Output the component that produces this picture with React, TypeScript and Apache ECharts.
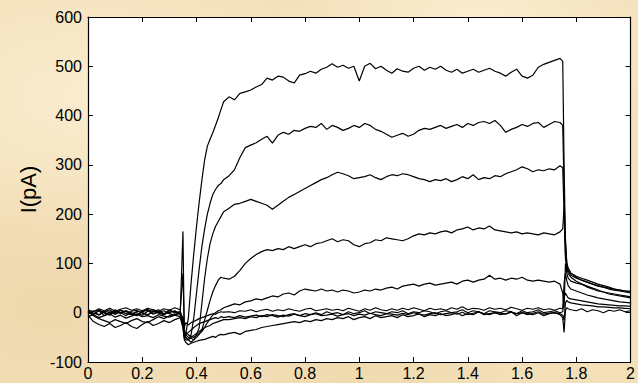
import React, { useEffect, useRef } from "react";
import * as echarts from "echarts";

// Time (s) sample points
const TIME = [
  0, 0.02, 0.04, 0.06, 0.08, 0.1, 0.12, 0.14, 0.16, 0.18, 0.2, 0.22, 0.24, 0.26, 0.28, 0.3, 0.32, 0.34,
  0.35, 0.355, 0.36,
  0.37, 0.38, 0.39, 0.4, 0.41, 0.42, 0.43, 0.44, 0.45, 0.46, 0.47, 0.48, 0.49, 0.5,
  0.52, 0.54, 0.56, 0.58, 0.6, 0.62, 0.64, 0.66, 0.68, 0.7,
  0.72, 0.74, 0.76, 0.78, 0.8, 0.82, 0.84, 0.86, 0.88, 0.9,
  0.92, 0.94, 0.96, 0.98, 1, 1.02, 1.04, 1.06, 1.08, 1.1,
  1.12, 1.14, 1.16, 1.18, 1.2, 1.22, 1.24, 1.26, 1.28, 1.3,
  1.32, 1.34, 1.36, 1.38, 1.4, 1.42, 1.44, 1.46, 1.48, 1.5,
  1.52, 1.54, 1.56, 1.58, 1.6, 1.62, 1.64, 1.66, 1.68, 1.7,
  1.72, 1.74,
  1.75, 1.755, 1.76, 1.765, 1.77,
  1.78, 1.8, 1.82, 1.84, 1.86, 1.88, 1.9, 1.92, 1.94, 1.96, 1.98, 2,
];

const TRACE_A = [
  3, -4, 5, 1, -3, 6, -2, 4, 0, -5, 3, 7, -1, 2, -4, 5, 1, -2,
  165, -50, -45,
  -10, 60, 120, 175, 225, 270, 310, 338, 352, 365, 380, 395, 412, 428,
  438, 432, 445, 448, 452, 458, 463, 476, 472, 480,
  478, 470, 466, 482, 485, 490, 486, 494, 498, 505,
  498, 502, 496, 500, 470, 500, 506, 495, 500, 492,
  486, 495, 490, 488, 496, 500, 492, 498, 494, 500,
  492, 488, 494, 486, 490, 494, 488, 492, 496, 490,
  486, 480, 488, 494, 480, 476, 482, 498, 504, 508,
  512, 516,
  510, 300, 140, 100, 90,
  80, 74, 70, 66, 62, 58, 55, 52, 48, 46, 44, 42,
];

const TRACE_B = [
  -2, 4, -5, 2, 6, -3, 1, -6, 3, 5, -1, -4, 2, 6, -2, 0, 4, -3,
  -30, -50, -55,
  -55, -45, -10, 40, 90, 135, 170, 200, 222, 240, 250, 258, 262, 270,
  278, 290, 315, 335, 340, 345, 352, 358, 344, 360,
  366, 362, 370, 368, 374, 378, 376, 384, 372, 380,
  376, 370, 374, 380, 376, 384, 380, 372, 368, 362,
  356, 360, 364, 358, 362, 370, 374, 372, 376, 380,
  374, 378, 382, 376, 384, 380, 386, 388, 384, 390,
  380, 366, 372, 376, 382, 378, 384, 386, 376, 382,
  388, 386,
  380, 250, 120, 95, 85,
  76, 70, 66, 62, 58, 55, 52, 48, 46, 44, 42, 40,
];

const TRACE_C = [
  1, -3, 4, -6, 2, 0, 5, -2, -4, 3, 1, -5, 4, 2, -3, 6, -1, 3,
  -20, -45, -50,
  -55, -60, -55, -45, -30, 20, 70, 110, 140, 160, 175, 185, 195, 205,
  212, 220, 222, 226, 230, 226, 222, 218, 210, 218,
  226, 234, 240, 246, 252, 258, 264, 270, 274, 280,
  285, 282, 278, 272, 274, 276, 280, 274, 270, 276,
  280, 278, 282, 280, 276, 272, 270, 266, 270, 268,
  272, 266, 270, 276, 272, 280, 270, 274, 272, 278,
  276, 282, 286, 290, 296, 292, 286, 290, 288, 292,
  290, 298,
  294, 200, 110, 90, 80,
  72, 64, 58, 54, 50, 46, 42, 40, 38, 36, 34, 32,
];

const TRACE_D = [
  -3, 2, 6, -1, -5, 3, 0, 4, -2, -6, 2, 5, -3, 1, 4, -2, -5, 2,
  -15, -40, -45,
  -50, -52, -55, -50, -44, -35, -15, 5, 25, 42, 55, 66, 72, 70,
  68, 74, 86, 100, 110, 118, 124, 128, 126, 130,
  128, 134, 130, 134, 138, 134, 140, 142, 146, 150,
  144, 148, 146, 138, 134, 140, 142, 148, 146, 152,
  150, 148, 146, 150, 156, 160, 158, 162, 160, 164,
  166, 162, 168, 170, 174, 168, 172, 170, 176, 168,
  166, 164, 162, 164, 160, 162, 160, 158, 162, 160,
  158, 164,
  170, 215, 150, 100, 90,
  80, 72, 66, 62, 58, 54, 52, 50, 48, 46, 44, 44,
];

const TRACE_E = [
  4, -1, -4, 3, 1, -3, 5, 2, -2, 0, -5, 3, 6, -1, -4, 2, 3, -2,
  -10, -35, -40,
  -45, -48, -50, -46, -42, -38, -30, -20, -12, -5, 0, 4, 6, 10,
  14, 18, 16, 22, 24, 28, 26, 30, 34, 32,
  38, 40, 36, 44, 48, 46, 44, 48, 44, 46,
  42, 46, 44, 40, 42, 46, 44, 48, 46, 50,
  52, 48, 54, 56, 58, 54, 58, 60, 56, 58,
  60, 62, 58, 64, 66, 62, 66, 68, 76, 68,
  70, 66, 70, 68, 72, 66, 64, 66, 64, 62,
  64, 58,
  40, 10, 100, 80, 70,
  64, 60, 58, 52, 48, 44, 42, 38, 36, 34, 32, 30,
];

const TRACE_F = [
  -5, -18, -24, -28, -22, -30, -26, -20, -28, -32, -24, -18, -26, -22, -16, -20, -14, -10,
  -30, -55, -60,
  -65, -62, -60, -58, -56, -55, -54, -52, -50, -48, -50, -46, -44, -45,
  -42, -40, -44, -38, -36, -34, -30, -28, -26, -24,
  -22, -20, -18, -20, -16, -18, -14, -16, -12, -14,
  -10, -12, -8, -14, -10, -8, -12, -6, -10, -8,
  -6, -10, -4, -8, -6, -2, -8, -4, -6, -2,
  -6, -4, 0, -6, -2, -4, 2, -4, -2, 0,
  -4, -2, 2, -6, 0, -2, -4, 0, -6, -2,
  0, -4,
  -10, -40, 5, 10, 8,
  6, 4, 8, 2, 6, 4, 0, 5, 3, 6, 2, 4,
];

const TRACE_G = [
  2, -6, -12, -16, -20, -14, -18, -22, -16, -12, -18, -20, -14, -8, -12, -6, -4, -2,
  -20, -45, -50,
  -55, -50, -46, -42, -38, -34, -30, -28, -26, -22, -20, -18, -16, -14,
  -14, -12, -10, -12, -8, -10, -6, -8, -4, -6,
  -8, -4, -2, -6, -2, -4, 0, -4, 2, -2,
  0, -4, 2, -2, 0, 4, -2, 2, 0, -2,
  2, 0, 4, -2, 2, 0, 4, 2, -2, 2,
  4, 0, 2, 6, 0, 4, 2, -2, 4, 2,
  0, 4, 2, -2, 4, 0, 2, 6, 0, 2,
  4, 0,
  2, 30, 40, 35, 30,
  28, 26, 24, 22, 20, 18, 17, 16, 15, 14, 14, 13,
];

const TRACE_H = [
  6, 2, 8, 4, 9, 3, 7, 10, 5, 8, 4, 9, 6, 3, 8, 5, 10, 6,
  80, -30, -20,
  -25, -20, -18, -15, -12, -10, -8, -6, -4, -2, -3, 0, 2, 1,
  2, 0, 4, 3, 6, 2, 5, 7, 3, 6,
  4, 8, 5, 3, 7, 9, 4, 6, 8, 5,
  7, 4, 9, 6, 3, 8, 5, 10, 6, 4,
  8, 5, 9, 6, 10, 7, 4, 9, 6, 8,
  5, 10, 7, 12, 6, 9, 8, 5, 10, 7,
  9, 6, 11, 8, 5, 9, 7, 10, 6, 8,
  5, 9,
  8, 60, 80, 65, 55,
  48, 44, 40, 36, 33, 30, 28, 26, 24, 22, 21, 20,
];

const TRACE_I = [
  -8, -4, -10, -6, -2, -9, -5, -11, -7, -3, -8, -6, -10, -4, -7, -9, -5, -8,
  -10, -40, -45,
  -40, -35, -30, -26, -22, -20, -18, -16, -14, -12, -10, -12, -8, -10,
  -8, -10, -6, -9, -7, -5, -8, -4, -6, -9,
  -5, -7, -3, -6, -8, -4, -2, -6, -5, -3,
  -7, -4, -2, -6, -3, -5, -1, -4, -6, -2,
  -3, -5, -1, -4, 0, -3, -5, -2, 0, -4,
  -2, 0, -3, 1, -4, -1, 2, -2, -4, 0,
  -1, -3, 1, -2, 0, -4, -1, 2, -3, -1,
  0, -2,
  -5, -15, 20, 25, 22,
  20, 18, 16, 15, 14, 12, 12, 11, 10, 10, 9, 8,
];

const TRACES = [TRACE_A, TRACE_B, TRACE_C, TRACE_D, TRACE_E, TRACE_F, TRACE_G, TRACE_H, TRACE_I];

const X_MIN = 0;
const X_MAX = 2;
const X_STEP = 0.2;
const Y_MIN = -100;
const Y_MAX = 600;
const Y_STEP = 100;
const Y_NAME = "I(pA)";

const FONT = "'Liberation Sans', Arial, Helvetica, sans-serif";

export default function App() {
  const ref = useRef<HTMLDivElement>(null);

  useEffect(() => {
    if (!ref.current) return;
    const chart = echarts.init(ref.current, undefined, { renderer: "svg" });
    const axisLine = { show: true, onZero: false, lineStyle: { color: "#000", width: 1.2 } };
    const tick = { show: true, inside: true, length: 5, lineStyle: { color: "#000", width: 1 } };
    const label = { color: "#000", fontSize: 16, fontFamily: FONT };

    chart.setOption({
      animation: false,
      backgroundColor: "transparent",
      grid: {
        left: 88,
        top: 17,
        right: 3,
        bottom: 21,
        show: true,
        backgroundColor: "#ffffff",
        borderWidth: 0,
      },
      xAxis: [
        {
          type: "value",
          min: X_MIN,
          max: X_MAX,
          interval: X_STEP,
          position: "bottom",
          axisLine,
          axisTick: tick,
          axisLabel: { ...label, margin: 3, showMaxLabel: true },
          splitLine: { show: false },
        },
        {
          type: "value",
          min: X_MIN,
          max: X_MAX,
          interval: X_STEP,
          position: "top",
          axisLine,
          axisTick: tick,
          axisLabel: { show: false },
          splitLine: { show: false },
        },
      ],
      yAxis: [
        {
          type: "value",
          min: Y_MIN,
          max: Y_MAX,
          interval: Y_STEP,
          position: "left",
          name: Y_NAME,
          nameLocation: "middle",
          nameGap: 48,
          nameTextStyle: { color: "#000", fontSize: 22, fontFamily: FONT },
          axisLine,
          axisTick: tick,
          axisLabel: { ...label, margin: 6 },
          splitLine: { show: false },
        },
        {
          type: "value",
          min: Y_MIN,
          max: Y_MAX,
          interval: Y_STEP,
          position: "right",
          axisLine,
          axisTick: tick,
          axisLabel: { show: false },
          splitLine: { show: false },
        },
      ],
      series: TRACES.map((tr, k) => ({
        type: "line",
        name: "trace" + (k + 1),
        xAxisIndex: 0,
        yAxisIndex: 0,
        data: TIME.map((t, i) => [t, tr[i]]),
        showSymbol: false,
        symbol: "none",
        clip: true,
        silent: true,
        lineStyle: { color: "#000", width: 1.2 },
      })),
    });
    return () => chart.dispose();
  }, []);

  const bg =
    "radial-gradient(ellipse at 15% 25%, rgba(255,248,225,0.55), rgba(255,248,225,0) 35%)," +
    "radial-gradient(ellipse at 75% 8%, rgba(255,246,222,0.6), rgba(255,246,222,0) 30%)," +
    "radial-gradient(ellipse at 8% 80%, rgba(230,200,150,0.35), rgba(230,200,150,0) 30%)," +
    "radial-gradient(ellipse at 55% 95%, rgba(235,208,160,0.4), rgba(235,208,160,0) 35%)," +
    "#f3e0b9";

  return (
    <div
      ref={ref}
      style={{ position: "absolute", left: 0, top: 0, width: 638, height: 383, background: bg }}
    />
  );
}
